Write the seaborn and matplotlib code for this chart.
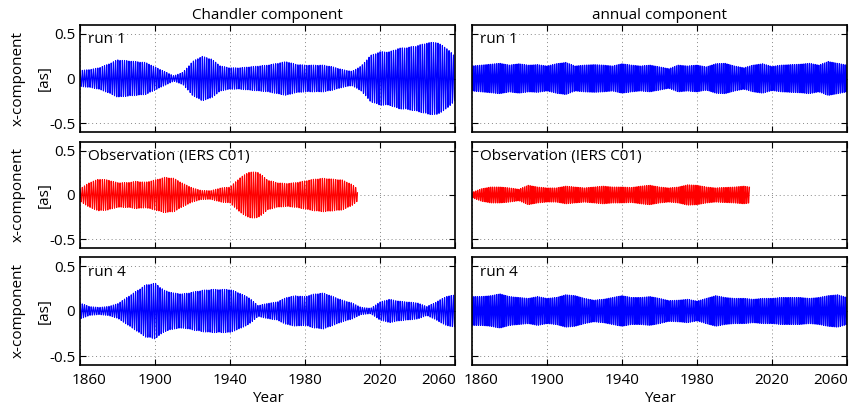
"""
Chandler and annual polar motion components, x-component, runs vs observation
"""
import numpy as np
import pandas as pd
import seaborn as sns
import matplotlib.pyplot as plt
from matplotlib.transforms import ScaledTranslation

# envelope amplitudes [as], every 5 years
knot_years = list(range(1860, 2061, 5))
obs_years = list(range(1860, 2006, 5)) + [2008]

chandler_run1 = [0.09, 0.10, 0.12, 0.16, 0.21, 0.20, 0.19, 0.18, 0.13, 0.08,
                 0.03, 0.07, 0.19, 0.25, 0.22, 0.14, 0.12, 0.12, 0.13, 0.14,
                 0.15, 0.17, 0.19, 0.16, 0.15, 0.15, 0.15, 0.13, 0.10, 0.08,
                 0.14, 0.26, 0.30, 0.30, 0.34, 0.35, 0.37, 0.40, 0.41, 0.35,
                 0.25]
chandler_obs = [0.07, 0.14, 0.18, 0.17, 0.14, 0.14, 0.155, 0.145, 0.17, 0.20,
                0.19, 0.13, 0.08, 0.05, 0.05, 0.08, 0.09, 0.19, 0.26, 0.26,
                0.17, 0.14, 0.13, 0.14, 0.16, 0.18, 0.19, 0.18, 0.17, 0.12,
                0.07]
chandler_run4 = [0.09, 0.05, 0.04, 0.05, 0.08, 0.15, 0.22, 0.29, 0.31, 0.23,
                 0.20, 0.19, 0.21, 0.23, 0.24, 0.24, 0.24, 0.20, 0.15, 0.06,
                 0.085, 0.10, 0.15, 0.17, 0.16, 0.19, 0.20, 0.16, 0.12, 0.09,
                 0.04, 0.03, 0.10, 0.13, 0.11, 0.10, 0.09, 0.05, 0.10, 0.16,
                 0.18]
annual_run1 = [0.14, 0.15, 0.16, 0.17, 0.15, 0.165, 0.15, 0.155, 0.14, 0.165,
               0.18, 0.14, 0.15, 0.155, 0.15, 0.14, 0.165, 0.15, 0.14, 0.15,
               0.13, 0.11, 0.15, 0.14, 0.15, 0.13, 0.165, 0.17, 0.14, 0.12,
               0.15, 0.165, 0.135, 0.15, 0.155, 0.16, 0.17, 0.15, 0.19, 0.17,
               0.15]
annual_obs = [0.03, 0.07, 0.09, 0.09, 0.08, 0.065, 0.11, 0.09, 0.08, 0.08,
              0.10, 0.09, 0.08, 0.09, 0.10, 0.09, 0.09, 0.085, 0.10, 0.11,
              0.09, 0.08, 0.09, 0.115, 0.11, 0.09, 0.08, 0.085, 0.09, 0.10,
              0.09]
annual_run4 = [0.16, 0.16, 0.17, 0.19, 0.16, 0.15, 0.14, 0.16, 0.14, 0.15,
               0.18, 0.17, 0.14, 0.12, 0.13, 0.15, 0.17, 0.15, 0.15, 0.16,
               0.14, 0.115, 0.12, 0.13, 0.11, 0.14, 0.17, 0.15, 0.14, 0.14,
               0.13, 0.14, 0.14, 0.15, 0.15, 0.15, 0.14, 0.15, 0.17, 0.18,
               0.15]

chandler_period = 433.0 / 365.25  # years
annual_period = 1.0
dt = 1.0 / 12.0

panels = [
    # (row, col, label, knots, envelope, period, color)
    (0, 0, 'run 1', knot_years, chandler_run1, chandler_period, 'blue'),
    (0, 1, 'run 1', knot_years, annual_run1, annual_period, 'blue'),
    (1, 0, 'Observation (IERS C01)', obs_years, chandler_obs, chandler_period, 'red'),
    (1, 1, 'Observation (IERS C01)', obs_years, annual_obs, annual_period, 'red'),
    (2, 0, 'run 4', knot_years, chandler_run4, chandler_period, 'blue'),
    (2, 1, 'run 4', knot_years, annual_run4, annual_period, 'blue'),
]

sns.set_style('white')
plt.rcParams['font.family'] = ['Open Sans', 'DejaVu Sans']
plt.rcParams['font.size'] = 11
plt.rcParams['text.color'] = 'black'
plt.rcParams['axes.labelcolor'] = 'black'
plt.rcParams['xtick.color'] = 'black'
plt.rcParams['ytick.color'] = 'black'

fig = plt.figure(figsize=(8.51, 4.17), dpi=100)

col_left = [80 / 851, 472 / 851]
col_width = 375 / 851
rows = [(25, 132), (142, 248), (257, 365)]  # top, bottom in px

axes = {}
for row, col, label, years, env, period, color in panels:
    top, bot = rows[row]
    ax = fig.add_axes([col_left[col], 1 - bot / 417, col_width, (bot - top) / 417])
    axes[(row, col)] = ax

    t = np.arange(years[0], years[-1] + 1e-9, dt)
    amp = np.interp(t, years, env)
    df = pd.DataFrame({'year': t, 'x': amp * np.cos(2 * np.pi * t / period)})
    sns.lineplot(df, x='year', y='x', color=color, linewidth=0.8,
                 estimator=None, sort=False, ax=ax)

    ax.set_xlim(1860, 2060)
    ax.set_ylim(-0.6, 0.6)
    ax.set_xticks(range(1860, 2061, 40))
    ax.set_yticks([-0.5, 0, 0.5])
    ax.grid(True, linestyle=(0, (1, 3)), color='#888888', linewidth=0.7)
    ax.tick_params(direction='in', length=4, width=0.8, top=True, right=True,
                   bottom=True, left=True, labelsize=11, colors='black')
    ax.tick_params(axis='x', pad=6)
    for sp in ax.spines.values():
        sp.set_color('black')
        sp.set_linewidth(1.2)
    ax.text(0.02, 0.93, label, transform=ax.transAxes, ha='left', va='top',
            fontsize=11)

    ax.set_xlabel('')
    ax.set_ylabel('')
    if col == 0:
        ax.set_yticklabels(['-0.5', '0', '0.5'])
        ax.set_ylabel('x-component\n[as]', fontsize=11, linespacing=2.0,
                      labelpad=-2)
    else:
        ax.set_yticklabels([])
    if row == 2:
        ax.set_xticklabels([str(y) for y in range(1860, 2061, 40)])
        ax.set_xlabel('Year', fontsize=11, labelpad=2)
        labs = ax.get_xticklabels()
        labs[0].set_transform(labs[0].get_transform()
                              + ScaledTranslation(0.09, 0, fig.dpi_scale_trans))
        labs[-1].set_transform(labs[-1].get_transform()
                               + ScaledTranslation(-0.16, 0, fig.dpi_scale_trans))
    else:
        ax.set_xticklabels([])

axes[(0, 0)].set_title('Chandler component', fontsize=11, pad=4)
axes[(0, 1)].set_title('annual component', fontsize=11, pad=4)

plt.savefig('out.png', dpi=100)
